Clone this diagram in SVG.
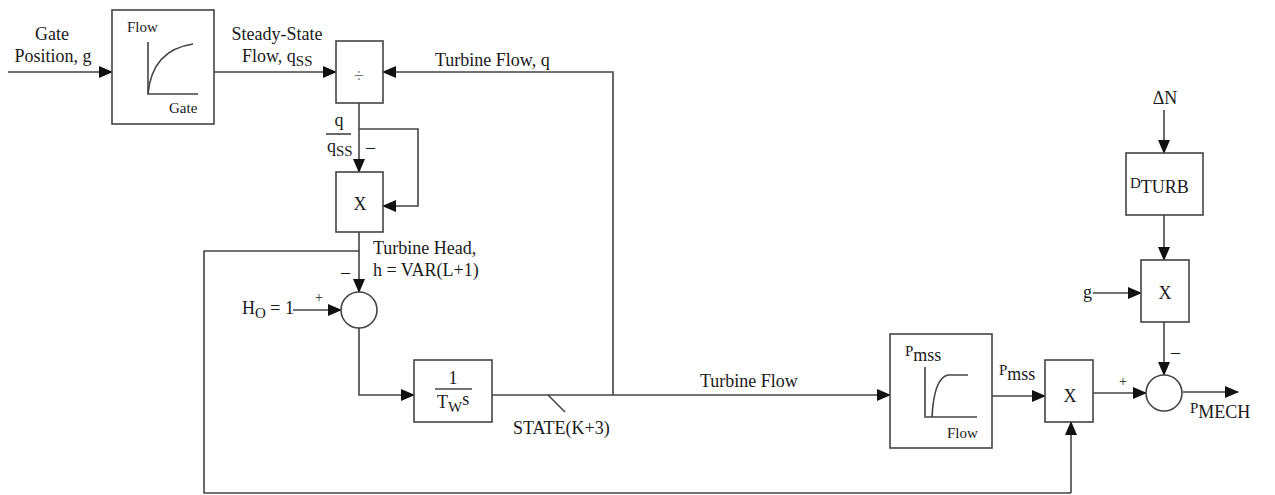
<svg xmlns="http://www.w3.org/2000/svg" width="1275" height="495" viewBox="0 0 1275 495">
<style>
.b{fill:#fff;stroke:#444;stroke-width:1.6}
.l{fill:none;stroke:#444;stroke-width:1.6}
.a{fill:none;stroke:#444;stroke-width:1.6;marker-end:url(#ah)}
text{font-family:"Liberation Serif","Times New Roman",serif;fill:#1a1a1a;font-size:18px}
.s{font-size:15px}
.t{font-size:14px}
.m{text-anchor:middle}
</style>
<defs>
<marker id="ah" markerWidth="14" markerHeight="12" refX="13" refY="6" orient="auto" markerUnits="userSpaceOnUse">
<path d="M0,0 L14,6 L0,12 Z" fill="#111"/>
</marker>
</defs>
<rect width="1275" height="495" fill="#fff"/>
<g id="connectors">
<path class="a" d="M8,72 H112"/>
<path class="a" d="M214,72 H336"/>
<path class="a" d="M613,395 V72 H383"/>
<path class="a" d="M359,103 V172"/>
<path class="a" d="M359,129 H418 V206 H383"/>
<path class="a" d="M359,232 V292"/>
<path class="l" d="M359,251 H204 V493 H1071"/>
<path class="a" d="M1071,493 V422"/>
<path class="a" d="M293,310 H341"/>
<path class="a" d="M359,328 V395 H414"/>
<path class="a" d="M492,395 H890"/>
<path class="l" d="M548,395 L565,412"/>
<path class="a" d="M992,396 H1045"/>
<path class="a" d="M1093,393 H1146"/>
<path class="a" d="M1183,392 H1238"/>
<path class="a" d="M1164,110 V153"/>
<path class="a" d="M1164,215 V260"/>
<path class="a" d="M1093,293 H1141"/>
<path class="a" d="M1164,322 V375"/>
</g>
<g id="labels">
<text class="m" x="52" y="40">Gate</text>
<text class="m" x="53" y="62">Position, g</text>
<text class="m" x="277" y="40">Steady-State</text>
<text x="242" y="62">Flow, q<tspan class="s" dy="4">SS</tspan></text>
<text x="435" y="66">Turbine Flow, q</text>
<text class="m" x="339" y="126">q</text>
<path class="l" d="M326,134 H351"/>
<text x="327" y="152">q<tspan class="s" dy="4">SS</tspan></text>
<text x="366" y="153">–</text>
<text x="373" y="254">Turbine Head,</text>
<text x="373" y="276">h = VAR(L+1)</text>
<text x="341" y="278">–</text>
<text x="315" y="302" class="t">+</text>
<text x="242" y="314">H<tspan class="s" dy="4">O</tspan><tspan dy="-4"> = 1</tspan></text>
<text x="513" y="434">STATE(K+3)</text>
<text x="700" y="387">Turbine Flow</text>
<text x="999" y="380"><tspan class="s" dy="-5">P</tspan><tspan dy="5">mss</tspan></text>
<text x="1119" y="386" class="t">+</text>
<text x="1171" y="358">–</text>
<text x="1190" y="418"><tspan class="s" dy="-5">P</tspan><tspan dy="5">MECH</tspan></text>
<text class="m" x="1165" y="104">ΔN</text>
<text x="1083" y="298">g</text>
</g>
<g id="gate-curve">
<rect class="b" x="112" y="10" width="102" height="114"/>
<text x="127" y="32" class="s">Flow</text>
<path class="l" d="M148,42 V94 H198"/>
<path class="l" d="M148,94 Q152,50 193,44"/>
<text x="169" y="113" class="s">Gate</text>
</g>
<g id="divide">
<rect class="b" x="336" y="41" width="47" height="62"/>
<text class="m" x="359" y="82" style="fill:#777">÷</text>
</g>
<g id="mult1">
<rect class="b" x="336" y="172" width="47" height="60"/>
<text class="m" x="360" y="210">X</text>
</g>
<g id="sum1">
<circle class="b" cx="359" cy="310" r="18"/>
</g>
<g id="integrator">
<rect class="b" x="414" y="360" width="78" height="62"/>
<text class="m" x="453" y="384">1</text>
<path class="l" d="M435,389 H472"/>
<text x="437" y="408">T<tspan class="s" dy="4">W</tspan><tspan dy="-7">s</tspan></text>
</g>
<g id="pmss-curve">
<rect class="b" x="890" y="334" width="102" height="114"/>
<text x="905" y="361"><tspan class="s" dy="-5">P</tspan><tspan dy="5">mss</tspan></text>
<path class="l" d="M925,367 V417 H977"/>
<path class="l" d="M932,417 Q934,378 948,375 H968"/>
<text x="947" y="438" class="s">Flow</text>
</g>
<g id="mult2">
<rect class="b" x="1045" y="360" width="48" height="62"/>
<text class="m" x="1070" y="402">X</text>
</g>
<g id="sum2">
<circle class="b" cx="1164" cy="393" r="18"/>
</g>
<g id="dturb">
<rect class="b" x="1126" y="153" width="77" height="62"/>
<text x="1130" y="193"><tspan class="s" dy="-5">D</tspan><tspan dy="5">TURB</tspan></text>
</g>
<g id="mult3">
<rect class="b" x="1141" y="260" width="48" height="62"/>
<text class="m" x="1165" y="299">X</text>
</g>
</svg>
